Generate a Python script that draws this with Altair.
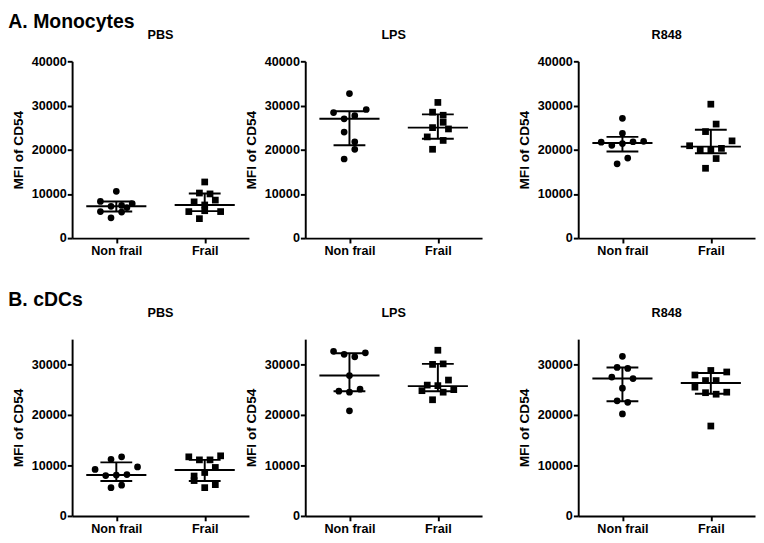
import altair as alt
import pandas as pd

GROUPS = ["Non frail", "Frail"]
STIMS = ["PBS", "LPS", "R848"]
ROW_TITLES = ["A. Monocytes", "B. cDCs"]
Y_TITLE = "MFI of CD54"
MONO_TICKS = [0, 10000, 20000, 30000, 40000]
CDC_TICKS = [0, 10000, 20000, 30000]
MONO_MAX = 40000
CDC_MAX = 35000

# ---------- A. Monocytes ----------
mono_pbs_nf = [10600, 8300, 7800, 7400, 7200, 6900, 6000, 5900, 4600]
mono_pbs_nf_dx = [0, -0.18, 0.18, 0.06, -0.06, 0.12, -0.18, 0.06, -0.06]
mono_pbs_nf_stats = [6000, 7200, 8300]
mono_pbs_fr = [12700, 10200, 10000, 8600, 8200, 7500, 6000, 6200, 6000, 4400]
mono_pbs_fr_dx = [0, -0.06, 0.06, 0.12, -0.12, 0, -0.18, 0, 0.18, -0.06]
mono_pbs_fr_stats = [6100, 7500, 10100]

mono_lps_nf = [32700, 29100, 28400, 27700, 27000, 24000, 21800, 20100, 17900]
mono_lps_nf_dx = [0, 0.19, -0.18, 0.06, -0.06, -0.06, 0.06, 0.06, -0.06]
mono_lps_nf_stats = [21000, 27000, 28700]
mono_lps_fr = [30700, 28500, 27800, 26200, 25000, 24700, 22900, 22100, 20100]
mono_lps_fr_dx = [0, -0.06, 0.06, 0.06, -0.06, 0.12, -0.12, 0.06, -0.06]
mono_lps_fr_stats = [22500, 25000, 28000]

mono_r848_nf = [27100, 23700, 21700, 21000, 21400, 21800, 21900, 16800, 18100]
mono_r848_nf_dx = [0, 0, -0.24, -0.12, 0, 0.12, 0.24, -0.06, 0.06]
mono_r848_nf_stats = [19600, 21500, 22900]
mono_r848_fr = [30300, 25800, 24100, 20900, 22000, 19900, 20000, 20300, 18000, 15800]
mono_r848_fr_dx = [0, 0.06, -0.06, -0.24, 0.24, -0.12, 0, 0.12, 0.06, -0.06]
mono_r848_fr_stats = [19200, 20700, 24500]

# ---------- B. cDCs ----------
cdc_pbs_nf = [11200, 11700, 9200, 9700, 8000, 8200, 8100, 5600, 6100]
cdc_pbs_nf_dx = [-0.06, 0.06, -0.24, 0.24, -0.12, 0.12, 0, -0.06, 0.06]
cdc_pbs_nf_stats = [6900, 8100, 10600]
cdc_pbs_fr = [11700, 11900, 11100, 11100, 9600, 7900, 8600, 7000, 6200, 5600]
cdc_pbs_fr_dx = [-0.18, 0.18, -0.06, 0.06, 0.12, -0.12, 0, -0.12, 0.12, 0]
cdc_pbs_fr_stats = [6900, 9100, 11100]

cdc_lps_nf = [32600, 32000, 31500, 32300, 27800, 24700, 24500, 25100, 20800]
cdc_lps_nf_dx = [-0.18, -0.06, 0.06, 0.18, 0, -0.12, 0, 0.12, 0]
cdc_lps_nf_stats = [24700, 27800, 32200]
cdc_lps_fr = [32800, 30000, 30100, 26900, 25900, 24800, 25800, 24500, 25000, 23000]
cdc_lps_fr_dx = [0, -0.06, 0.06, 0.12, -0.12, -0.18, 0, 0.06, 0.18, -0.06]
cdc_lps_fr_stats = [24700, 25700, 30100]

cdc_r848_nf = [31600, 29400, 29200, 27500, 27200, 25300, 22800, 22500, 20200]
cdc_r848_nf_dx = [0, -0.06, 0.06, -0.12, 0.12, 0, -0.06, 0.06, 0]
cdc_r848_nf_stats = [22700, 27200, 29400]
cdc_r848_fr = [28800, 27900, 28500, 26800, 26800, 25500, 24400, 24100, 24500, 17800]
cdc_r848_fr_dx = [0, -0.18, 0.18, -0.06, 0.06, -0.18, -0.06, 0.06, 0.18, 0]
cdc_r848_fr_stats = [24200, 26300, 28300]

FONT = "Liberation Sans"


def panel(title, nf, nf_dx, nf_st, fr, fr_dx, fr_st, ymax, ticks, toff):
    pts = pd.DataFrame({
        "group": [GROUPS[0]] * len(nf) + [GROUPS[1]] * len(fr),
        "g": [0] * len(nf) + [1] * len(fr),
        "dx": list(nf_dx) + list(fr_dx),
        "val": list(nf) + list(fr),
    })
    st = pd.DataFrame({
        "group": GROUPS,
        "g": [0, 1],
        "q1": [nf_st[0], fr_st[0]],
        "med": [nf_st[1], fr_st[1]],
        "q3": [nf_st[2], fr_st[2]],
    })
    xscale = alt.Scale(domain=[-0.5, 1.5], nice=False, zero=False)
    yscale = alt.Scale(domain=[0, ymax], nice=False)
    xaxis = alt.Axis(values=[0, 1], labelExpr="datum.value == 0 ? 'Non frail' : 'Frail'",
                     title=None, grid=False, domain=True, tickSize=5, tickWidth=2, domainWidth=2,
                     domainColor="black", tickColor="black", labelColor="black",
                     labelFont=FONT, labelFontSize=13, labelFontWeight="bold",
                     labelPadding=2, labelAngle=0)
    yaxis = alt.Axis(values=ticks, format="d", title=Y_TITLE, grid=False, domain=True, tickSize=5,
                     tickWidth=2, domainWidth=2, domainColor="black", tickColor="black",
                     labelColor="black", labelFont=FONT, labelFontSize=13,
                     labelFontWeight="bold", labelPadding=1, titleFont=FONT,
                     titleFontSize=14, titleFontWeight="bold", titleColor="black",
                     titlePadding=6)

    base_st = alt.Chart(st)
    med = base_st.mark_rule(color="black", strokeWidth=2).transform_calculate(
        a="datum.g - 0.34", b="datum.g + 0.34").encode(
        x=alt.X("a:Q", scale=xscale, axis=xaxis), x2="b:Q",
        y=alt.Y("med:Q", scale=yscale, axis=yaxis))
    cap1 = base_st.mark_rule(color="black", strokeWidth=2).transform_calculate(
        a="datum.g - 0.18", b="datum.g + 0.18").encode(
        x=alt.X("a:Q", scale=xscale, axis=xaxis), x2="b:Q",
        y=alt.Y("q1:Q", scale=yscale, axis=yaxis))
    cap3 = base_st.mark_rule(color="black", strokeWidth=2).transform_calculate(
        a="datum.g - 0.18", b="datum.g + 0.18").encode(
        x=alt.X("a:Q", scale=xscale, axis=xaxis), x2="b:Q",
        y=alt.Y("q3:Q", scale=yscale, axis=yaxis))
    vert = base_st.mark_rule(color="black", strokeWidth=2).encode(
        x=alt.X("g:Q", scale=xscale, axis=xaxis),
        y=alt.Y("q1:Q", scale=yscale, axis=yaxis), y2="q3:Q")
    points = alt.Chart(pts).mark_point(filled=True, opacity=1, color="black", size=48).transform_calculate(
        x="datum.g + datum.dx").encode(
        x=alt.X("x:Q", scale=xscale, axis=xaxis),
        y=alt.Y("val:Q", scale=yscale, axis=yaxis),
        shape=alt.Shape("group:N", scale=alt.Scale(domain=GROUPS, range=["circle", "square"]),
                        legend=None))
    return alt.layer(points, vert, cap1, cap3, med).properties(
        width=182, height=182,
        title=alt.TitleParams(title, font=FONT, fontSize=13, fontWeight="bold",
                              color="black", anchor="middle", frame="group", offset=toff))


def row(prefix_data, ymax, ticks, row_title, toff):
    p = [panel(STIMS[i], *prefix_data[i], ymax, ticks, toff) for i in range(3)]
    return alt.hconcat(alt.hconcat(p[0], p[1], spacing=-6), p[2], spacing=35,
                       title=alt.TitleParams(row_title, anchor="start", font=FONT,
                                             fontSize=20, fontWeight="bold",
                                             color="black", offset=-3, dx=-3))


mono = [
    (mono_pbs_nf, mono_pbs_nf_dx, mono_pbs_nf_stats, mono_pbs_fr, mono_pbs_fr_dx, mono_pbs_fr_stats),
    (mono_lps_nf, mono_lps_nf_dx, mono_lps_nf_stats, mono_lps_fr, mono_lps_fr_dx, mono_lps_fr_stats),
    (mono_r848_nf, mono_r848_nf_dx, mono_r848_nf_stats, mono_r848_fr, mono_r848_fr_dx, mono_r848_fr_stats),
]
cdc = [
    (cdc_pbs_nf, cdc_pbs_nf_dx, cdc_pbs_nf_stats, cdc_pbs_fr, cdc_pbs_fr_dx, cdc_pbs_fr_stats),
    (cdc_lps_nf, cdc_lps_nf_dx, cdc_lps_nf_stats, cdc_lps_fr, cdc_lps_fr_dx, cdc_lps_fr_stats),
    (cdc_r848_nf, cdc_r848_nf_dx, cdc_r848_nf_stats, cdc_r848_fr, cdc_r848_fr_dx, cdc_r848_fr_stats),
]

chart = alt.vconcat(
    row(mono, MONO_MAX, MONO_TICKS, ROW_TITLES[0], 14),
    row(cdc, CDC_MAX, CDC_TICKS, ROW_TITLES[1], 20),
    spacing=32,
).properties(
    padding={"top": -4, "left": 0, "right": 0, "bottom": 0}
).configure(font=FONT, background="white").configure_view(
    stroke="transparent"
).configure_axis(
    domain=True, domainColor="black", domainWidth=2, tickColor="black", tickWidth=2
)

chart.save("out.html", embed_options={"renderer": "svg", "actions": False})
